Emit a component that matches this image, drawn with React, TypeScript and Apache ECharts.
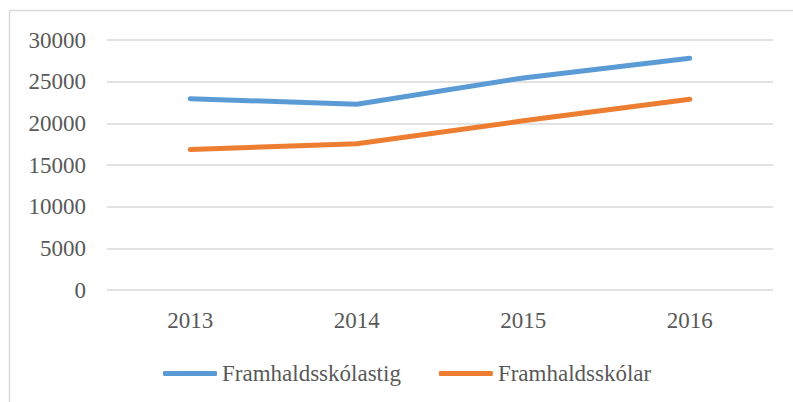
import React, { useEffect, useRef } from "react";
import * as echarts from "echarts";

const years = ["2013", "2014", "2015", "2016"];
const framhaldsskolastig = [22950, 22300, 25450, 27800];
const framhaldsskolar = [16850, 17550, 20300, 22900];
const seriesNames = ["Framhaldsskólastig", "Framhaldsskólar"];
const colors = ["#5B9BD5", "#ED7D31"];

export default function App() {
  const ref = useRef<HTMLDivElement>(null);
  useEffect(() => {
    document.body.style.margin = "0";
    const chart = echarts.init(ref.current!, null, { renderer: "svg" });
    const font = "Liberation Serif";
    chart.setOption({
      animation: false,
      backgroundColor: "#ffffff",
      textStyle: { fontFamily: font },
      grid: { left: 107, right: 20, top: 40, bottom: 112, containLabel: false },
      graphic: [
        {
          type: "rect",
          shape: { x: 9.5, y: 10.5, width: 800, height: 400 },
          style: { fill: "none", stroke: "#D9D9D9", lineWidth: 1.5 },
          silent: true,
        },
      ],
      legend: {
        left: 158,
        top: 357,
        itemWidth: 54,
        itemHeight: 5,
        itemGap: 38,
        icon: "roundRect",
        textStyle: { fontFamily: font, fontSize: 23, color: "#595959" },
        data: seriesNames,
      },
      xAxis: {
        type: "category",
        data: years,
        boundaryGap: true,
        axisLine: { show: false },
        axisTick: { show: false },
        axisLabel: { fontFamily: font, fontSize: 23, color: "#595959", margin: 19 },
      },
      yAxis: {
        type: "value",
        min: 0,
        max: 30000,
        interval: 5000,
        axisLine: { show: false },
        axisTick: { show: false },
        axisLabel: {
          fontFamily: font,
          fontSize: 23,
          color: "#595959",
          margin: 21,
          formatter: (v: number) => String(v),
        },
        splitLine: { lineStyle: { color: "#D9D9D9", width: 1.5 } },
      },
      series: [
        {
          name: seriesNames[0],
          type: "line",
          data: framhaldsskolastig,
          showSymbol: false,
          symbol: "none",
          lineStyle: { color: colors[0], width: 5, cap: "round", join: "round" },
          itemStyle: { color: colors[0] },
        },
        {
          name: seriesNames[1],
          type: "line",
          data: framhaldsskolar,
          showSymbol: false,
          symbol: "none",
          lineStyle: { color: colors[1], width: 5, cap: "round", join: "round" },
          itemStyle: { color: colors[1] },
        },
      ],
    });
    return () => chart.dispose();
  }, []);
  return <div ref={ref} style={{ width: 793, height: 402 }} />;
}
